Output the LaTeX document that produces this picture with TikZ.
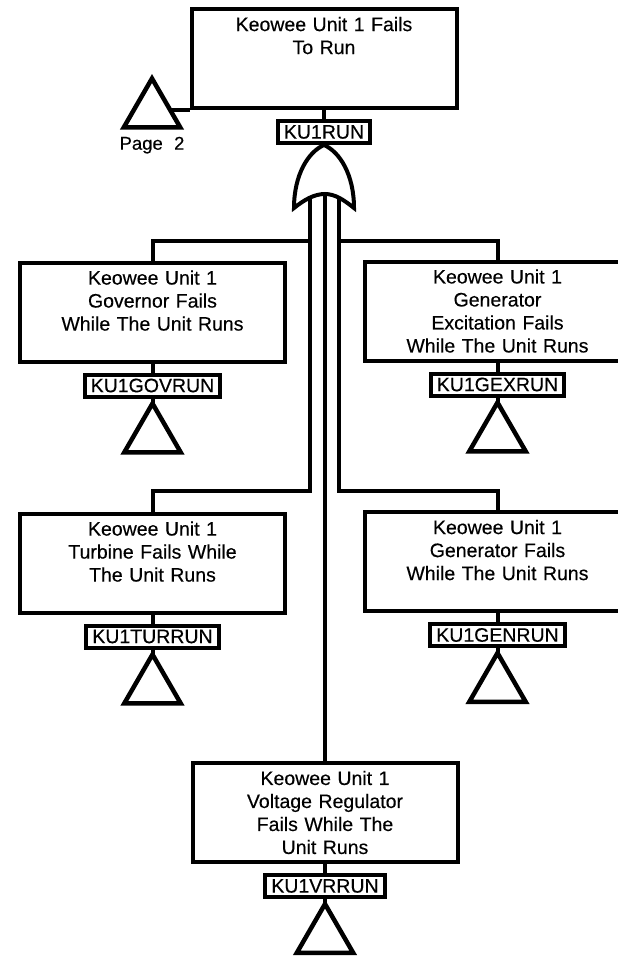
\documentclass[tikz,border=0pt]{standalone}
\usepackage{fontspec}
\setmainfont[WordSpace=2.2, FakeBold=0.3]{Liberation Sans}
\usepackage{tikz}
\usetikzlibrary{shapes.geometric, positioning}
\tikzset{
  event/.style={rectangle, draw=black, fill=white, line width=4pt, text width=260pt, align=center,
                minimum width=265pt, minimum height=99pt, inner sep=0pt, font=\fontsize{19.5}{23}\selectfont},
  tagbox/.style={rectangle, draw=black, fill=white, line width=4pt, inner xsep=6pt, inner ysep=0pt,
                 minimum height=22pt, font=\fontsize{19.5}{21}\selectfont},
  xfer/.style={regular polygon, regular polygon sides=3, draw=black, fill=white, line width=4.5pt,
               minimum size=65pt, inner sep=0pt, outer sep=0pt},
  link/.style={line width=4pt, color=black},
}
\begin{document}
\begin{tikzpicture}[x=1pt, y=-1pt, node distance=9pt]
  \useasboundingbox (0,0) rectangle (618,958);
  \clip (0,0) rectangle (618,958);

  % top event and its gate
  \node[event] (top) at (324,58.5) {Keowee Unit 1 Fails\\To Run\\~\\~};
  \node[tagbox, below=of top] (toptag) {KU1RUN};
  \coordinate (gin1) at (310,198);
  \coordinate (gin2) at (325,194);
  \coordinate (gin3) at (339,198);

  % branches
  \node[event] (gov) at (152.5,312) {Keowee Unit 1\\Governor Fails\\While The Unit Runs\\~};
  \node[event] (gex) at (497.5,311) {Keowee Unit 1\\Generator\\Excitation Fails\\While The Unit Runs};
  \node[event] (tur) at (152.5,563) {Keowee Unit 1\\Turbine Fails While\\The Unit Runs\\~};
  \node[event] (gen) at (497.5,561.5) {Keowee Unit 1\\Generator Fails\\While The Unit Runs\\~};
  \node[event] (vr) at (325,812.5) {Keowee Unit 1\\Voltage Regulator\\Fails While The\\Unit Runs};

  \node[tagbox, below=of gov] (govtag) {KU1GOVRUN};
  \node[tagbox, below=of gex] (gextag) {KU1GEXRUN};
  \node[tagbox, below=of tur] (turtag) {KU1TURRUN};
  \node[tagbox, below=of gen] (gentag) {KU1GENRUN};
  \node[tagbox, below=of vr] (vrtag) {KU1VRRUN};

  \node[xfer, below=5pt of govtag.south, anchor=corner 1] (govtri) {};
  \node[xfer, below=5pt of gextag.south, anchor=corner 1] (gextri) {};
  \node[xfer, below=5pt of turtag.south, anchor=corner 1] (turtri) {};
  \node[xfer, below=5pt of gentag.south, anchor=corner 1] (gentri) {};
  \node[xfer, below=5pt of vrtag.south, anchor=corner 1] (vrtri) {};

  % page reference
  \node[xfer] (pagetri) at (152,111) {};
  \node[below=6pt of pagetri.side 2, font=\fontsize{18.5}{20}\selectfont] (pagetxt) {Page 2};
  \coordinate (pagejoin) at (172,110);

  % gate outline
  \draw[link, line join=miter, fill=white] (toptag.south) .. controls (340,152) and (354,175) .. (354,208)
    .. controls (344,200) and (335,194) .. (gin2)
    .. controls (314,194) and (304,200) .. (294,208)
    .. controls (294,175) and (308,152) .. (toptag.south) -- cycle;

  % connectors
  \draw[link] (top.south) -- (toptag.north);
  \draw[link] (top.south west) -- (pagejoin);
  \foreach \src/\dst in {gov/govtag, gex/gextag, tur/turtag, gen/gentag, vr/vrtag}
    \draw[link] (\src.south) -- (\dst.north);
  \foreach \src/\dst in {govtag/govtri, gextag/gextri, turtag/turtri, gentag/gentri, vrtag/vrtri}
    \draw[link] (\src.south) -- (\dst.corner 1);
  \draw[link] (gin1) -- ++(0,43) -| (gov.north);
  \draw[link] (gin3) -- ++(0,43) -| (gex.north);
  \draw[link] (gin1) -- ++(0,293) -| (tur.north);
  \draw[link] (gin3) -- ++(0,293) -| (gen.north);
  \draw[link] (gin2) -- (vr.north);
\end{tikzpicture}
\end{document}
